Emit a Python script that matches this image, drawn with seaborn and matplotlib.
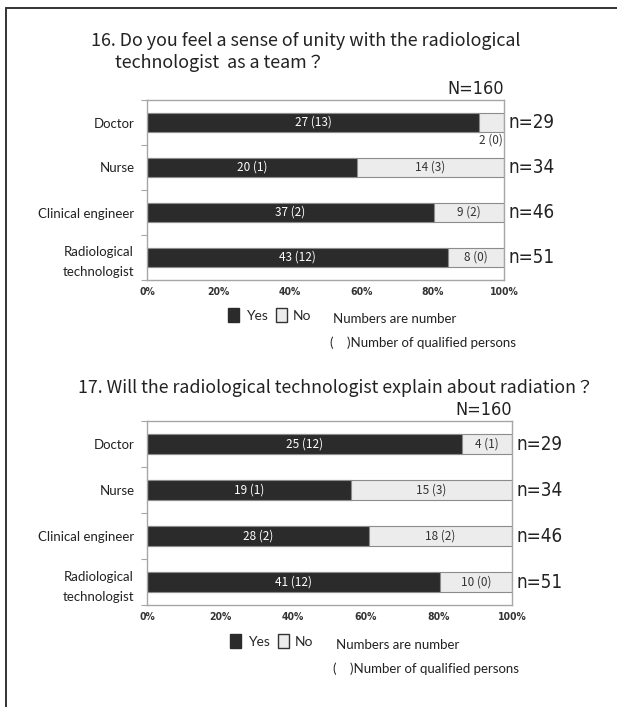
import matplotlib
matplotlib.use("Agg")
import matplotlib.pyplot as plt
import seaborn as sns
import pandas as pd
from matplotlib.patches import Patch
from matplotlib.lines import Line2D
from matplotlib import font_manager as fm

# ---- data -------------------------------------------------------------
categories = ["Doctor", "Nurse", "Clinical engineer", "Radiological\ntechnologist"]

q16_yes = [27, 20, 37, 43]
q16_yes_qualified = [13, 1, 2, 12]
q16_no = [2, 14, 9, 8]
q16_no_qualified = [0, 3, 2, 0]

q17_yes = [25, 19, 28, 41]
q17_yes_qualified = [12, 1, 2, 12]
q17_no = [4, 15, 18, 10]
q17_no_qualified = [1, 3, 2, 0]

total_N = 160
x_ticks = [0, 20, 40, 60, 80, 100]
x_tick_labels = ["0%", "20%", "40%", "60%", "80%", "100%"]

title16 = "16. Do you feel a sense of unity with the radiological\n      technologist  as a team？"
title17 = "17. Will the radiological technologist explain about radiation？"

# ---- style ------------------------------------------------------------
sns.set_theme(style="white")
installed = {f.name for f in fm.fontManager.ttflist}
NARROW = "Liberation Sans Narrow" if "Liberation Sans Narrow" in installed else "DejaVu Sans"
NARROW_STRETCH = "normal" if NARROW != "DejaVu Sans" else "condensed"
CJK = "Noto Sans CJK JP"
BODY = "Lato"
plt.rcParams["font.family"] = [BODY, CJK, "DejaVu Sans"]

YES_COLOR = "#2b2b2b"
NO_COLOR = "#ececec"
EDGE = "#8c8c8c"
SPINE = "#a6a6a6"

W, H = 617, 707
fig = plt.figure(figsize=(W / 100, H / 100), dpi=100)


def fx(px):
    return px / W


def fy(py):
    return 1 - py / H


def draw_panel(ax, yes, yes_q, no, no_q):
    totals = [a + b for a, b in zip(yes, no)]
    df = pd.DataFrame({
        "category": categories,
        "yes_pct": [100 * a / t for a, t in zip(yes, totals)],
        "no_pct": [100 * b / t for b, t in zip(no, totals)],
    })
    df["stack_pct"] = df["yes_pct"] + df["no_pct"]

    sns.barplot(data=df, x="stack_pct", y="category", orient="h", color=NO_COLOR,
                saturation=1, width=0.42, edgecolor=EDGE, linewidth=0.8,
                errorbar=None, ax=ax)
    sns.barplot(data=df, x="yes_pct", y="category", orient="h", color=YES_COLOR,
                saturation=1, width=0.42, edgecolor=EDGE, linewidth=0.8,
                errorbar=None, ax=ax)

    for i, row in df.iterrows():
        ax.text(row["yes_pct"] / 2, i, f"{yes[i]} ({yes_q[i]})", ha="center",
                va="center", color="white", fontsize=8.5, family=[CJK])
        if row["no_pct"] < 10:
            ax.text(row["stack_pct"] - 0.3, i + 0.38, f"{no[i]} ({no_q[i]})",
                    ha="right", va="center", color="#333333", fontsize=8.5, family=[CJK])
        else:
            ax.text(row["yes_pct"] + row["no_pct"] / 2, i, f"{no[i]} ({no_q[i]})",
                    ha="center", va="center", color="#333333", fontsize=8.5, family=[CJK])
        ax.text(1.012, i, f"n={totals[i]}", transform=ax.get_yaxis_transform(),
                ha="left", va="center", fontsize=13.5, family=[NARROW],
                fontstretch=NARROW_STRETCH, color="#222222")

    ax.text(1.0, 1.01, f"N={total_N}", transform=ax.transAxes, ha="right",
            va="bottom", fontsize=13, family=[NARROW], fontstretch=NARROW_STRETCH,
            color="#222222")

    ax.set_xlim(0, 100)
    ax.set_ylim(len(categories) - 0.5, -0.5)
    ax.set_xticks(x_ticks)
    ax.set_xticklabels(x_tick_labels, fontsize=7.5, fontweight="bold",
                       family=["DejaVu Sans"], fontstretch="condensed", color="#333333")
    ax.set_yticks(range(len(categories)))
    ax.set_yticklabels(categories, fontsize=9.5, multialignment="center",
                       linespacing=1.8, color="#222222")
    ax.set_yticks([k - 0.5 for k in range(len(categories) + 1)], minor=True)
    ax.tick_params(axis="y", which="major", length=0, pad=9)
    ax.tick_params(axis="y", which="minor", length=4, width=0.8, color=SPINE,
                   direction="out", left=True)
    ax.tick_params(axis="x", length=0, pad=5)
    ax.set_xlabel("")
    ax.set_ylabel("")
    for s in ax.spines.values():
        s.set_visible(True)
        s.set_color(SPINE)
        s.set_linewidth(1.0)


def draw_notes(ax, legend_x, legend_y, note_x, note_y):
    handles = [Patch(facecolor=YES_COLOR, edgecolor=YES_COLOR, label="Yes"),
               Patch(facecolor=NO_COLOR, edgecolor="#333333", label="No")]
    ax.legend(handles=handles, loc="center", ncol=2, frameon=False,
              bbox_to_anchor=(fx(legend_x), fy(legend_y)), bbox_transform=fig.transFigure,
              handlelength=0.8, handleheight=1.1, handletextpad=0.45,
              columnspacing=0.6, fontsize=10)
    fig.text(fx(note_x), fy(note_y), "Numbers are number", fontsize=9.5,
             ha="left", va="center", color="#222222")
    fig.text(fx(note_x - 3), fy(note_y + 24), "(    )Number of qualified persons",
             fontsize=9.5, ha="left", va="center", color="#222222")


ax1 = fig.add_axes([fx(147), fy(280), fx(504) - fx(147), (280 - 100) / H])
draw_panel(ax1, q16_yes, q16_yes_qualified, q16_no, q16_no_qualified)
draw_notes(ax1, 270, 315, 333, 319)

ax2 = fig.add_axes([fx(147), fy(605), fx(512) - fx(147), (605 - 421) / H])
draw_panel(ax2, q17_yes, q17_yes_qualified, q17_no, q17_no_qualified)
draw_notes(ax2, 272, 641, 336, 645)

fig.text(fx(91), fy(52), title16, fontsize=12.9, ha="left", va="center",
         linespacing=1.3, color="#222222", family=[CJK])
fig.text(fx(78), fy(388), title17, fontsize=12.8, ha="left", va="center",
         color="#222222", family=[CJK])

# outer frame lines
fig.add_artist(Line2D([fx(5.5), 1.0], [fy(7.5), fy(7.5)], transform=fig.transFigure,
                      color="#333333", linewidth=1.4))
fig.add_artist(Line2D([fx(5.5), fx(5.5)], [fy(7.5), 0.0], transform=fig.transFigure,
                      color="#333333", linewidth=1.4))

fig.savefig("out.png", dpi=100)
